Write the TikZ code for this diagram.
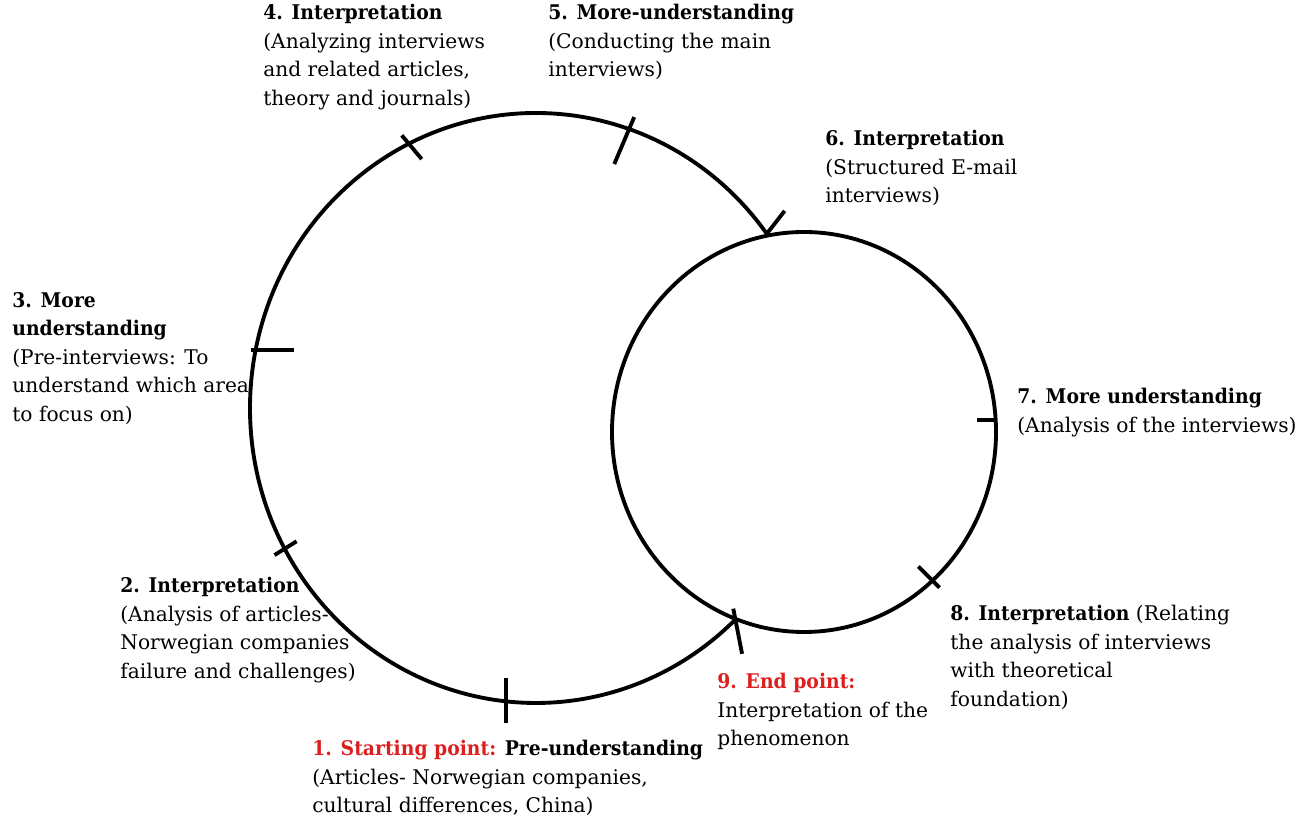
\documentclass[tikz,border=0pt]{standalone}
\usepackage{fontspec}
\setmainfont{DejaVu Serif}[BoldFeatures={FakeStretch=0.93}]
\usetikzlibrary{positioning,calc}
\tikzset{>=stealth}
\definecolor{pointred}{RGB}{220,32,32}

\begin{document}
\begin{tikzpicture}[x=0.02cm,y=0.02cm,
  cyc/.style={line width=2.2pt},
  tick/.style={line width=2.2pt},
  lbl/.style={anchor=north west,inner sep=0pt,align=left,font=\fontsize{11.5}{16.2}\selectfont}]
\useasboundingbox (0,0) rectangle (1311,827);
\coordinate (L) at (536,419);
\coordinate (R) at (804,395);
\coordinate (j6) at ($(L)+(36.2:286 and 295)$);
\coordinate (j9) at ($(L)+(314.2:286 and 295)$);
\draw[cyc] (j6) arc[start angle=36.2,end angle=314.2,x radius=286,y radius=295];
\draw[cyc] (R) ellipse[x radius=192,y radius=200];
\draw[tick] ($(L)+(264:286 and 295)$) ++(270:22) -- ++(90:45);
\draw[tick] ($(L)+(208.5:286 and 295)$) ++(212:12) -- ++(32:26);
\draw[tick] ($(L)+(168.6:286 and 295)$) ++(180:5) -- ++(0:43);
\draw[tick] ($(L)+(116.4:286 and 295)$) ++(130:11) -- ++(310:31);
\draw[tick] ($(L)+(71:286 and 295)$) ++(67:13) -- ++(247:51);
\draw[tick] (j6) -- ++(52:29);
\draw[tick] ($(R)+(3.4:192 and 200)$) ++(0:1) -- ++(180:20);
\draw[tick] ($(R)+(-48:192 and 200)$) ++(-45:10) -- ++(135:30);
\draw[tick] (j9) ++(-79:35) -- ++(101:46);
\node[lbl] (n1) at (312,87) {\textcolor{pointred}{\textbf{1. Starting point:}} \textbf{Pre-understanding}\\(Articles- Norwegian companies,\\cultural differences, China)};
\node[lbl] (n2) at (120,250) {\textbf{2. Interpretation}\\(Analysis of articles-\\Norwegian companies\\failure and challenges)};
\node[lbl] (n3) at (12,535) {\textbf{3. More}\\\textbf{understanding}\\(Pre-interviews: To\\understand which area\\to focus on)};
\node[lbl] (n4) at (263,823) {\textbf{4. Interpretation}\\(Analyzing interviews\\and related articles,\\theory and journals)};
\node[lbl] (n5) at (548,823) {\textbf{5. More-understanding}\\(Conducting the main\\interviews)};
\node[lbl] (n6) at (825,697) {\textbf{6. Interpretation}\\(Structured E-mail\\interviews)};
\node[lbl] (n7) at (1017,439) {\textbf{7. More understanding}\\(Analysis of the interviews)};
\node[lbl] (n8) at (950,222) {\textbf{8. Interpretation} (Relating\\the analysis of interviews\\with theoretical\\foundation)};
\node[lbl] (n9) at (717,154) {\textcolor{pointred}{\textbf{9. End point:}}\\Interpretation of the\\phenomenon};
\end{tikzpicture}
\end{document}
